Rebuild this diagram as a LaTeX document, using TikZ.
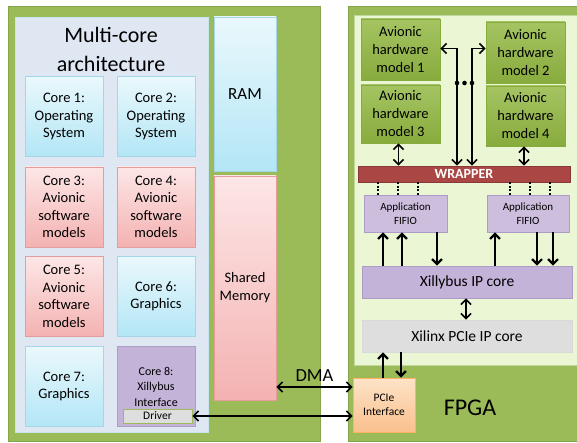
\documentclass[tikz,border=0pt]{standalone}
\usepackage{fontspec}
\setmainfont{Carlito}
\usetikzlibrary{arrows.meta}

\definecolor{olive}{HTML}{9BBB59}
\definecolor{olivedark}{HTML}{86A54A}
\definecolor{palegreen}{HTML}{EBF6D5}
\definecolor{paleblue}{HTML}{DFE7F2}
\definecolor{wrapred}{HTML}{AA4643}
\definecolor{cyantop}{HTML}{EAF8FC}
\definecolor{cyanbot}{HTML}{B3E6F6}
\definecolor{cyanline}{HTML}{A3D6E9}
\definecolor{pinktop}{HTML}{FDE6E6}
\definecolor{pinkbot}{HTML}{F4B2B2}
\definecolor{pinkline}{HTML}{E39D9D}
\definecolor{lilac}{HTML}{C4B3D8}
\definecolor{lilacline}{HTML}{AE9CC6}
\definecolor{hwtop}{HTML}{A5C462}
\definecolor{hwbot}{HTML}{88AB3D}
\definecolor{corangetop}{HTML}{FDE3C8}
\definecolor{corangebot}{HTML}{F9C08C}

\begin{document}
\begin{tikzpicture}[x=1pt, y=-1pt, thick,
    >={Straight Barb[length=5pt,width=10pt]},
    box/.style = {draw, rectangle, inner sep=1pt, align=center},
    zone/.style = {box, draw=olivedark, fill=olive, line width=1pt},
    blue/.style = {box, draw=cyanline, top color=cyantop, bottom color=cyanbot,
        minimum width=78, minimum height=80, font=\fontsize{14.5}{17.5}\selectfont},
    red/.style = {box, draw=pinkline, top color=pinktop, bottom color=pinkbot,
        minimum width=78, minimum height=80, font=\fontsize{14.5}{17.5}\selectfont},
    hw/.style = {box, draw=hwbot, top color=hwtop, bottom color=hwbot,
        minimum width=79, font=\fontsize{14.5}{18}\selectfont},
    fifo/.style = {box, draw=lilacline, fill=lilac!85, minimum height=37,
        font=\fontsize{11}{14}\selectfont},
    ipcore/.style = {box, minimum width=210, minimum height=32, font=\fontsize{15.5}{18}\selectfont},
    link/.style = {line width=1.6pt},
    bus/.style = {line width=2.2pt},
    tick/.style = {line width=1.2pt, dashed, dash pattern=on 2pt off 1.5pt}]

    \useasboundingbox (0,0) rectangle (577,443);

    % host side
    \node[zone, minimum width=312, minimum height=434] (host) at (164,224) {};
    \node[box, draw=cyanline!60, fill=paleblue, minimum width=193, minimum height=415] (multi) at (111.5,224.5) {};
    \node[font=\fontsize{22}{29}\selectfont, align=center] (title) at (111,49) {Multi-core\\architecture};

    \node[blue] (core1) at (64,116.5) {Core 1:\\Operating\\System};
    \node[blue] (core2) at (156,116.5) {Core 2:\\Operating\\System};
    \node[red] (core3) at (64,207) {Core 3:\\Avionic\\software\\models};
    \node[red] (core4) at (156,207) {Core 4:\\Avionic\\software\\models};
    \node[red] (core5) at (64,296.5) {Core 5:\\Avionic\\software\\models};
    \node[blue] (core6) at (156,296.5) {Core 6:\\Graphics};
    \node[blue] (core7) at (64,386.5) {Core 7:\\Graphics};
    \node[box, draw=lilacline, fill=lilac, minimum width=78, minimum height=80,
        font=\fontsize{12}{15.5}\selectfont] (core8) at (156,386.5) {Core 8:\\Xillybus\\Interface};
    \node[box, draw=olive, fill=black!13, minimum width=69, minimum height=14,
        font=\fontsize{11.5}{13}\selectfont] (driver) at (157.5,416) {Driver};

    \node[box, draw=cyanline, top color=cyantop, bottom color=cyanbot, minimum width=62,
        minimum height=154, font=\fontsize{17}{19}\selectfont] (ram) at (245,94) {RAM};
    \node[box, draw=pinkline, top color=pinktop, bottom color=pinkbot, minimum width=62,
        minimum height=224, font=\fontsize{14.5}{18}\selectfont] (shmem) at (245,288) {Shared\\Memory};

    % FPGA side
    \node[zone, minimum width=240, minimum height=434] (fpga) at (468,224) {};
    \node[box, draw=olive!60, fill=palegreen, minimum width=230, minimum height=350] (logic) at (469,190) {};
    \node[font=\fontsize{24}{26}\selectfont] (fpgalabel) at (470,408) {FPGA};

    \node[hw, minimum height=61] (ahm1) at (400.5,49.5) {Avionic\\hardware\\model 1};
    \node[hw, minimum height=58] (ahm3) at (400.5,114) {Avionic\\hardware\\model 3};
    \node[hw, minimum height=61] (ahm2) at (525.5,52.5) {Avionic\\hardware\\model 2};
    \node[hw, minimum height=60] (ahm4) at (525.5,116) {Avionic\\hardware\\model 4};

    \node[box, draw=wrapred!80!black, fill=wrapred, text=white, minimum width=212, minimum height=16,
        font=\fontsize{14}{15}\selectfont\bfseries] (wrapper) at (464,174) {WRAPPER};
    \node[fifo, minimum width=83] (fifo1) at (405.5,213.5) {Application\\FIFIO};
    \node[fifo, minimum width=82] (fifo2) at (528,213.5) {Application\\FIFIO};
    \node[ipcore, draw=lilacline, fill=lilac] (xilly) at (467,282) {Xillybus IP core};
    \node[ipcore, draw=black!15, fill=black!13] (pcicore) at (467,336) {Xilinx PCIe IP core};
    \node[box, draw=orange!60, top color=corangetop, bottom color=corangebot, minimum width=62,
        minimum height=54, font=\fontsize{11.5}{14.5}\selectfont] (pcie) at (384,405) {PCIe\\Interface};

    % connectors
    \draw[link, <->] ([xshift=-2pt]ahm3.south) -- ([xshift=-2pt]ahm3.south |- wrapper.north);
    \draw[link, <->] ([xshift=-1.5pt]ahm4.south) -- ([xshift=-1.5pt]ahm4.south |- wrapper.north);
    \draw[link, <->] ([yshift=1pt]ahm1.east) -| ([xshift=-7pt]wrapper.north);
    \draw[link, <->] ([yshift=4pt]ahm2.west) -| ([xshift=8pt]wrapper.north);
    \foreach \dx in {457,464.5,472}
        \fill (\dx,83) circle (2.3);

    \foreach \dx in {-27.5,-7.5,12.5}
        \draw[tick] ([xshift=\dx pt]fifo1.north) -- ([xshift=\dx pt]fifo1.north |- wrapper.south);
    \foreach \dx in {-18,2,22}
        \draw[tick] ([xshift=\dx pt]fifo2.north) -- ([xshift=\dx pt]fifo2.north |- wrapper.south);

    \foreach \dx in {-22.5,-3.5}
        \draw[bus, ->] ([xshift=\dx pt]fifo1.south |- xilly.north) -- ([xshift=\dx pt]fifo1.south);
    \draw[bus, ->] ([xshift=31.5pt]fifo1.south) -- ([xshift=31.5pt]fifo1.south |- xilly.north);
    \draw[bus, ->] ([xshift=-33pt]fifo2.south |- xilly.north) -- ([xshift=-33pt]fifo2.south);
    \foreach \dx in {9,25}
        \draw[bus, ->] ([xshift=\dx pt]fifo2.south) -- ([xshift=\dx pt]fifo2.south |- xilly.north);

    \draw[link, <->] ([xshift=-1pt]xilly.south) -- ([xshift=-1pt]pcicore.north);
    \draw[bus, ->] ([xshift=-1pt]pcie.north) -- ([xshift=-1pt]pcie.north |- pcicore.south);
    \draw[bus, <-] ([xshift=17pt]pcie.north) -- ([xshift=17pt]pcie.north |- pcicore.south);

    \draw[link, <->] ([yshift=18pt]pcie.west) coordinate (dmaend) -- (shmem.east |- dmaend)
        node[midway, above=1pt, font=\fontsize{18.5}{20}\selectfont] (dma) {DMA};
    \draw[link, <->] (driver.east) -- (driver.east -| pcie.west);
\end{tikzpicture}
\end{document}
